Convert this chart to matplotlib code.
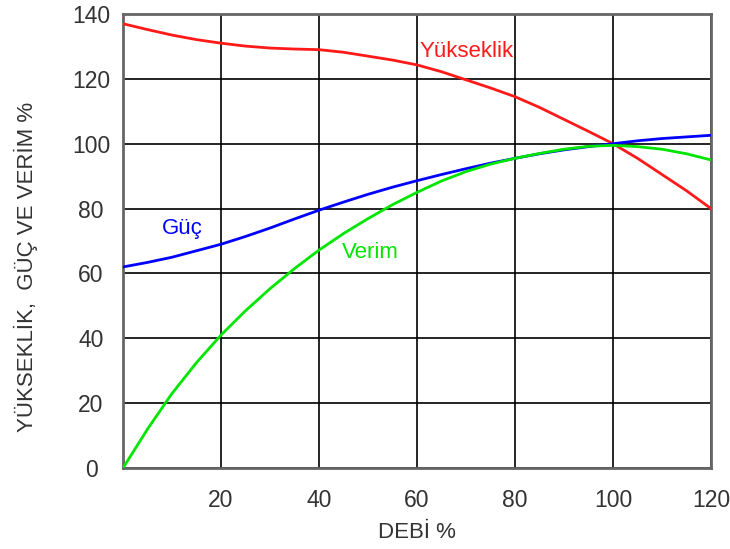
import numpy as np
import matplotlib
matplotlib.use("Agg")
import matplotlib.pyplot as plt

# debi % (x ekseni)
debi = [0, 5, 10, 15, 20, 25, 30, 35, 40, 45, 50, 55, 60,
        65, 70, 75, 80, 85, 90, 95, 100, 105, 110, 115, 120]

# yukseklik egrisi
yukseklik = [137, 135.2, 133.5, 132.1, 131, 130.1, 129.5, 129.2, 129, 128.2, 127, 125.8, 124.3,
             122.2, 119.7, 117.2, 114.5, 111.2, 107.5, 103.8, 100, 95.5, 90.5, 85.5, 80]

# guc egrisi
guc = [62, 63.4, 65, 67, 69, 71.4, 74, 76.8, 79.5, 82, 84.4, 86.6, 88.6,
       90.5, 92.3, 94, 95.5, 96.9, 98.1, 99.1, 100, 100.9, 101.6, 102.1, 102.6]

# verim egrisi
verim = [0, 12, 23, 32.5, 41, 48.5, 55.3, 61.5, 67.2, 72.3, 76.9, 81.2, 85,
         88.5, 91.4, 93.7, 95.5, 97, 98.3, 99.2, 99.5, 99.1, 98.3, 96.9, 95]

x_ticks = [20, 40, 60, 80, 100, 120]
y_ticks = [0, 20, 40, 60, 80, 100, 120, 140]

plt.rcParams['font.family'] = ['Liberation Sans', 'DejaVu Sans']


def main():
    fig = plt.figure(figsize=(7.3, 5.49), dpi=100)
    ax = fig.add_axes([0.1685, 0.1475, 0.8055, 0.827])

    x = np.array(debi)
    ax.plot(x, yukseklik, color="#ff1a1a", lw=2, zorder=3)
    ax.plot(x, guc, color="#0000ff", lw=2, zorder=3)
    ax.plot(x, verim, color="#00e600", lw=2, zorder=3)

    ax.text(60.6, 128.5, "Yükseklik", color="#ff1a1a", fontsize=16, va="center")
    ax.text(8, 74, "Güç", color="#0000ff", fontsize=16, va="center")
    ax.text(44.7, 66.6, "Verim", color="#00e600", fontsize=16, va="center")

    ax.set_xlim(0, 120)
    ax.set_ylim(0, 140)
    ax.set_xticks(x_ticks)
    ax.set_yticks(y_ticks)
    ax.tick_params(length=0, labelsize=16.5, colors="#333333")
    ax.tick_params(axis="x", pad=15)
    ax.tick_params(axis="y", pad=23)
    for t in ax.get_yticklabels():
        t.set_horizontalalignment("center")
    ax.grid(True, color="black", lw=1.2)
    for s in ax.spines.values():
        s.set_color("#666666")
        s.set_linewidth(2)

    ax.set_xlabel("DEBİ %", fontsize=16, color="#333333")
    ax.set_ylabel("YÜKSEKLİK,  GÜÇ VE VERİM %", fontsize=16, color="#333333")
    ax.xaxis.set_label_coords(0.5, -0.141)
    ax.xaxis.label.set_va("center")
    ax.yaxis.set_label_coords(-0.165, 0.443)
    ax.yaxis.label.set_va("center")

    fig.savefig("out.png", dpi=100)


if __name__ == "__main__":
    main()
